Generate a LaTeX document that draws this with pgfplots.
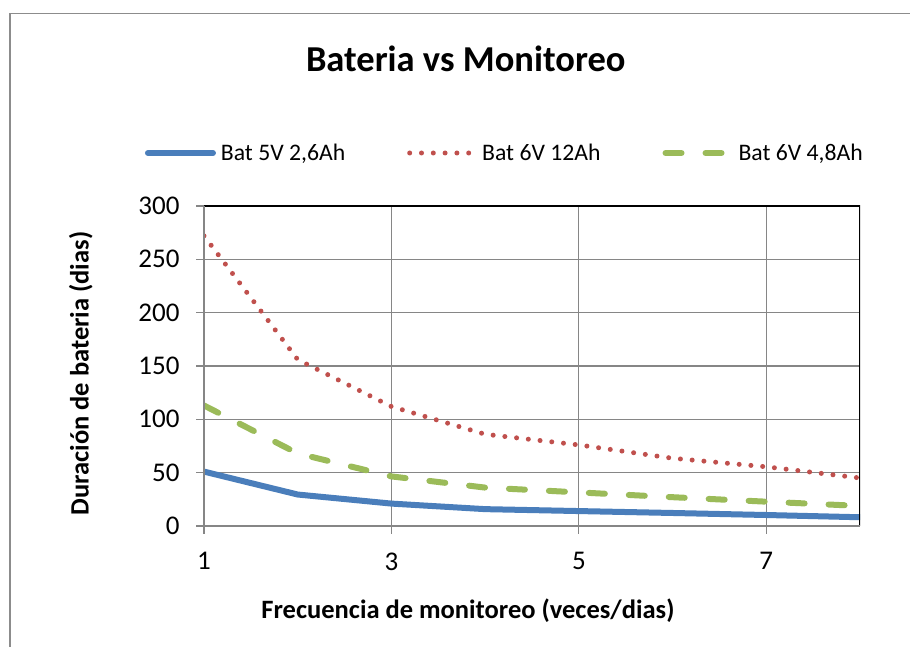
\documentclass[border=0pt]{standalone}
\usepackage{pgfplots}
\pgfplotsset{compat=1.18}
\usepackage{fontspec}
\setmainfont{Carlito}
\definecolor{cblue}{RGB}{74,126,187}
\definecolor{cred}{RGB}{192,80,77}
\definecolor{cgreen}{RGB}{155,187,89}
\definecolor{cgrid}{RGB}{134,134,134}
\definecolor{cframe}{RGB}{140,140,140}
\begin{document}
\begin{tikzpicture}[x=1pt,y=1pt]
\useasboundingbox (0,0) rectangle (910,647);
\draw[cframe, line width=1.5pt] (10,-10) -- (10,633.5) -- (920,633.5);
\begin{axis}[
  at={(204pt,121pt)}, anchor=south west,
  width=656pt, height=320pt, scale only axis,
  xmin=1, xmax=8, ymin=0, ymax=300,
  xtick={1,3,5,7}, ytick={0,50,...,300},
  grid=major,
  grid style={cgrid, line width=1.2pt},
  axis line style={draw=none},
  tick align=outside,
  major tick length=8pt,
  tick style={cgrid, line width=1.2pt},
  xtick pos=bottom, ytick pos=left,
  /pgf/number format/assume math mode=true,
  ticklabel style={font=\fontsize{27}{32}\selectfont},
  xticklabel style={yshift=-15pt},
  yticklabel style={xshift=-13pt},
  title={Bateria vs Monitoreo},
  title style={at={(axis description cs:0.399,1.40)}, anchor=base, font=\fontsize{36.5}{42}\selectfont\bfseries},
  xlabel={Frecuencia de monitoreo (veces/dias)},
  xlabel style={at={(axis description cs:0.4024,-0.29)}, anchor=base, font=\fontsize{26.5}{32}\selectfont\bfseries},
  ylabel={Duración de bateria (dias)},
  ylabel style={at={(axis description cs:-0.176,0.4766)}, anchor=base, font=\fontsize{26.5}{32}\selectfont\bfseries},
  legend columns=3,
  legend style={at={(axis description cs:-0.090,1.1656)}, anchor=west, draw=none, fill=none,
    inner sep=0pt, outer sep=0pt, font=\fontsize{23.7}{28}\selectfont,
    nodes={inner sep=0pt},
    /tikz/every odd column/.append style={column sep=5pt},
    /tikz/every even column/.append style={column sep=62pt}},
  legend image code/.code={\draw[#1] (0pt,0pt) -- (65pt,0pt);},
]
\addplot[cblue, line width=6pt, line join=round, line cap=round] coordinates {
 (1,51) (2,29.5) (3,21) (4,15.8) (5,14) (6,12.2) (7,10.3) (8,8.2)};
\addlegendentry{Bat 5V 2,6Ah}
\addplot[cred, line width=5pt, line cap=round, dash pattern=on 0pt off 11.8pt] coordinates {
 (1,272) (2,156) (3,112) (4,86) (5,76) (6,63.5) (7,55.5) (8,45)};
\addlegendentry{Bat 6V 12Ah}
\addplot[cgreen, line width=6pt, line cap=round, dash pattern=on 16pt off 24pt] coordinates {
 (1,113) (2,68) (3,46.5) (4,36) (5,31.5) (6,27) (7,22.8) (8,18.8)};
\addlegendentry{Bat 6V 4,8Ah}
\draw[black, line width=1.5pt] (rel axis cs:0,1) -- (rel axis cs:1,1) -- (rel axis cs:1,0);
\draw[cgrid, line width=1.5pt] (rel axis cs:0,1) -- (rel axis cs:0,0) -- (rel axis cs:1,0);
\end{axis}
\end{tikzpicture}
\end{document}
